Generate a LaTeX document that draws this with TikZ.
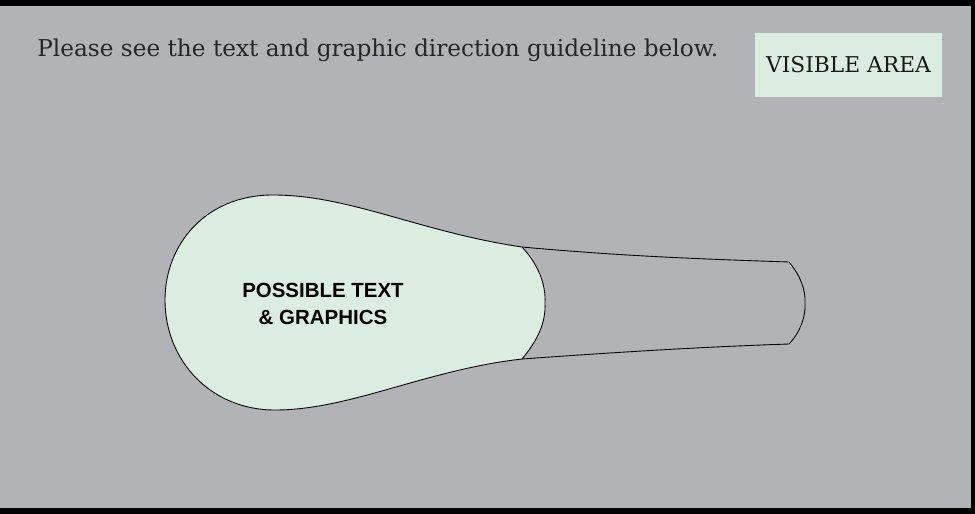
\documentclass[tikz,border=0pt]{standalone}
\usepackage{fontspec}
\setmainfont{DejaVu Serif}
\newfontfamily\labelfont{Liberation Sans}
\definecolor{panelgray}{HTML}{B1B3B7}
\definecolor{safegreen}{HTML}{DBEDE0}

\begin{document}
\begin{tikzpicture}[x=0.02cm, y=-0.02cm]
        % Frame and background
        \fill[black] (0,0) rectangle (975,514);
        \fill[panelgray] (0,6) rectangle (971,508);
        \useasboundingbox (0,0) rectangle (975,514);

        % Junction points
        \def\jx{522}
        \def\ex{789}

        % Handle (gray part)
        \draw[line width=0.5pt] (\jx,247) .. controls (620,256) and (700,259) .. (\ex,262)
              .. controls (800,275) and (806,290) .. (805,303)
              .. controls (806,316) and (800,333) .. (\ex,344)
              .. controls (700,347) and (620,352) .. (\jx,359);

        % Bulb (visible region)
        \filldraw[fill=safegreen, draw=black, line width=0.5pt]
              (\jx,247) .. controls (420,232) and (350,195) .. (273,195)
              .. controls (205,195) and (165,245) .. (165,300)
              .. controls (165,360) and (210,410) .. (275,410)
              .. controls (350,410) and (425,370) .. (\jx,359)
              .. controls (538,340) and (546,322) .. (545,303)
              .. controls (546,284) and (538,264) .. (\jx,247) -- cycle;

        % Labels
        \node[anchor=west, inner sep=0pt, font=\fontsize{13.2}{15}\selectfont, text=black!85] (guide) at (37,50)
              {Please see the text and graphic direction guideline below.};
        \node[fill=safegreen, minimum width=187*0.02cm, minimum height=64*0.02cm,
              font=\fontsize{12.4}{15}\selectfont, text=black!90] (visible) at (848.5,65) {VISIBLE AREA};
        \node[align=center, font=\labelfont\bfseries\fontsize{11.65}{15.2}\selectfont] (content) at (323,304)
              {POSSIBLE TEXT\\\& GRAPHICS};
\end{tikzpicture}
\end{document}
